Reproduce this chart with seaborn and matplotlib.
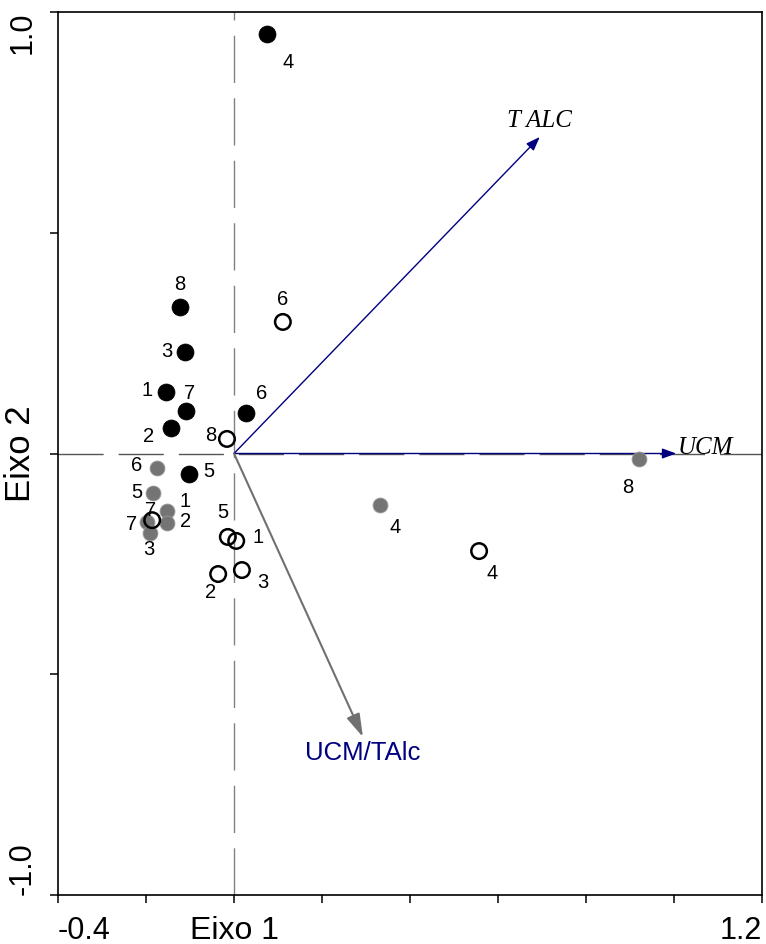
import matplotlib
matplotlib.use("Agg")
import matplotlib.pyplot as plt
import seaborn as sns
import numpy as np
import pandas as pd

# ---------------- data ----------------
solid_labels = ['4', '8', '3', '1', '7', '2', '6', '5']
solid_x = [0.075, -0.123, -0.111, -0.155, -0.109, -0.143, 0.027, -0.102]
solid_y = [0.950, 0.332, 0.231, 0.139, 0.096, 0.058, 0.092, -0.046]

open_labels = ['8', '6', '5', '1', '2', '3', '4', '7']
open_x = [-0.016, 0.111, -0.014, 0.005, -0.036, 0.018, 0.557, -0.186]
open_y = [0.033, 0.298, -0.189, -0.198, -0.273, -0.264, -0.221, -0.151]

gray_labels = ['6', '5', '1', '2', '7', '3', '4', '8']
gray_x = [-0.175, -0.184, -0.152, -0.152, -0.198, -0.191, 0.332, 0.920]
gray_y = [-0.033, -0.090, -0.130, -0.157, -0.155, -0.180, -0.117, -0.012]

vector_names = ['T ALC', 'UCM', 'UCM/TAlc']
vector_x = [0.695, 1.005, 0.293]
vector_y = [0.717, 0.0, -0.642]

x_ticks = [-0.4, -0.2, 0.0, 0.2, 0.4, 0.6, 0.8, 1.0, 1.2]
x_tick_labels = ['-0.4', '', 'Eixo 1', '', '', '', '', '', '1.2']
y_ticks = [-1.0, -0.5, 0.0, 0.5, 1.0]
y_tick_labels = ['-1.0', '', 'Eixo 2', '', '1.0']

# ---------------- layout / style (pixel offsets of point labels) ----------------
solid_off = [(21, -28), (0, 22), (-18, 0), (-19, 2), (4, 18), (-23, -9), (16, 19), (20, 2)]
open_off = [(-16, 3), (0, 22), (-5, 24), (22, 3), (-8, -18), (21, -12), (13, -22), (-2, 10)]
gray_off = [(-20, 3), (-16, 1), (18, 9), (18, 1), (-15, -3), (-1, -17), (15, -22), (-11, -29)]

sns.set_theme(style="ticks")
plt.rcParams['font.family'] = ['Liberation Sans', 'DejaVu Sans']

fig = plt.figure(figsize=(7.66, 9.44), dpi=100)
ax = fig.add_axes([58 / 766, 49 / 944, 704 / 766, 883 / 944])
ax.set_xlim(-0.4, 1.2)
ax.set_ylim(-1.0, 1.0)

# dashed reference lines
ax.plot([-0.4, 1.2], [0, 0], color='#555555', lw=1.0, dashes=(32.5, 10.8), zorder=1)
ax.plot([0, 0], [-1.0, 1.0], color='#808080', lw=1.0, dashes=(34, 11), zorder=1)

# points
sns.scatterplot(x=gray_x, y=gray_y, ax=ax, s=115, color='#747474',
                edgecolor='#9a9a9a', linewidth=0.6, zorder=3)
sns.scatterplot(x=open_x, y=open_y, ax=ax, s=125, facecolors='none',
                edgecolor='black', linewidth=1.8, zorder=4)
sns.scatterplot(x=solid_x, y=solid_y, ax=ax, s=150, color='black',
                edgecolor='black', linewidth=0.5, zorder=5)

for labs, xs, ys, offs in [(gray_labels, gray_x, gray_y, gray_off),
                           (open_labels, open_x, open_y, open_off),
                           (solid_labels, solid_x, solid_y, solid_off)]:
    for lab, xv, yv, (dx, dy) in zip(labs, xs, ys, offs):
        ax.annotate(lab, (xv, yv), xytext=(dx, dy), textcoords='offset pixels',
                    ha='center', va='center', fontsize=14.5, color='black', zorder=6)

# vectors
arrow_colors = ['#000080', '#000080', '#707070']
arrow_lw = [1.0, 1.0, 1.5]
arrow_styles = ['-|>,head_length=0.6,head_width=0.22',
                '-|>,head_length=0.6,head_width=0.22',
                '-|>,head_length=1.0,head_width=0.3']
for vx, vy, c, lw, st in zip(vector_x, vector_y, arrow_colors, arrow_lw, arrow_styles):
    ax.annotate('', xy=(vx, vy), xytext=(0, 0),
                arrowprops=dict(arrowstyle=st, color=c, lw=lw, shrinkA=0, shrinkB=0,
                                mutation_scale=14), zorder=2)

ax.annotate(vector_names[0], (vector_x[0], vector_y[0]), xytext=(0, 10),
            textcoords='offset pixels', ha='center', va='baseline',
            fontsize=18, family='Liberation Serif', style='italic', color='black')
ax.annotate(vector_names[1], (vector_x[1], vector_y[1]), xytext=(2, 0),
            textcoords='offset pixels', ha='left', va='baseline',
            fontsize=18, family='Liberation Serif', style='italic', color='black')
ax.annotate(vector_names[2], (vector_x[2], vector_y[2]), xytext=(0, -4),
            textcoords='offset pixels', ha='center', va='top',
            fontsize=18.5, color='#000080')

# axes / ticks
ax.set_xticks(x_ticks)
ax.set_xticklabels(x_tick_labels)
ax.set_yticks(y_ticks)
ax.set_yticklabels(y_tick_labels)
ax.tick_params(direction='out', length=6, width=1.1, color='black',
               labelsize=22, labelcolor='black')
ax.tick_params(axis='x', pad=9)
ax.tick_params(axis='y', pad=9)
for sp in ax.spines.values():
    sp.set_visible(True)
    sp.set_color('black')
    sp.set_linewidth(1.2)

xl = ax.get_xticklabels()
xl[0].set_ha('left')
xl[-1].set_ha('right')
xl[2].set_fontsize(23)
yl = ax.get_yticklabels()
for t in yl:
    t.set_rotation(90)
yl[0].set_va('bottom')
yl[-1].set_va('top')
yl[2].set_va('center')
yl[2].set_fontsize(25)

fig.savefig('out.png', dpi=100)
